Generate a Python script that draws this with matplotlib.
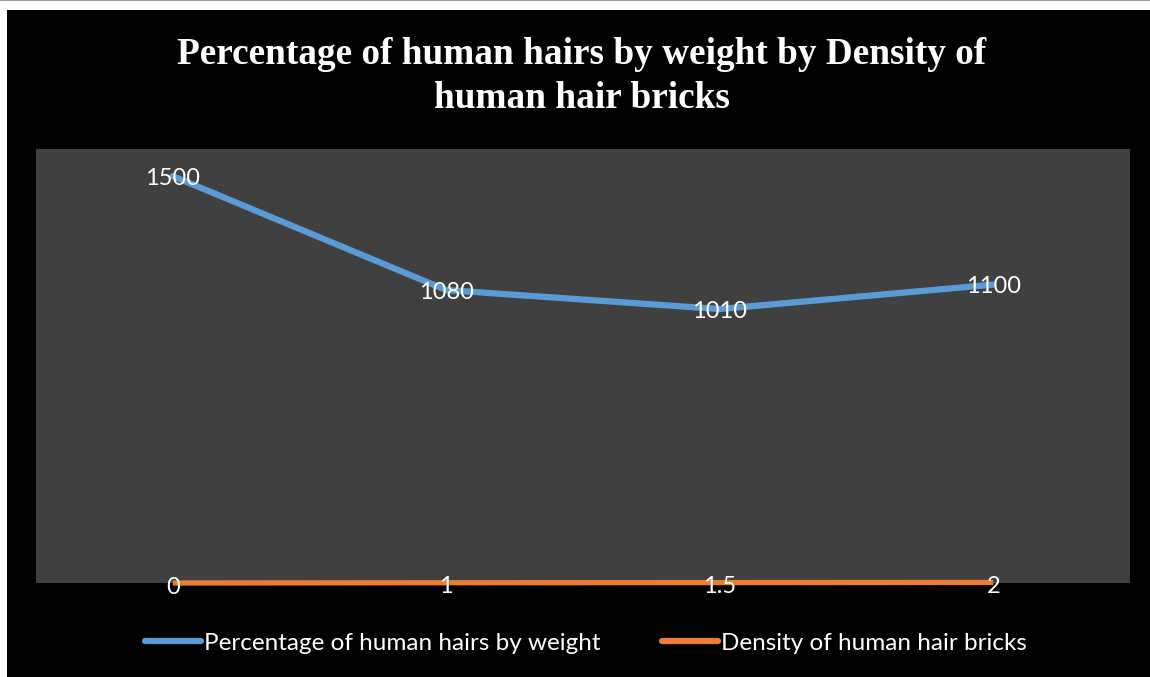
import matplotlib.pyplot as plt
from matplotlib.patches import Rectangle
from matplotlib.transforms import offset_copy

# data
categories = ['0', '1', '1.5', '2']
hair_pct_labels = [1500, 1080, 1010, 1100]      # "Percentage of human hairs by weight"
density_values = [0, 1, 1.5, 2]                  # "Density of human hair bricks"
series_names = ['Percentage of human hairs by weight', 'Density of human hair bricks']

blue = '#5B9BD5'
orange = '#ED7D31'
label_font = 'Lato'

fig = plt.figure(figsize=(11.5, 6.77), dpi=100, facecolor='white')
# black chart area behind everything
fig.add_artist(Rectangle((7 / 1150, 0), 1 - 7 / 1150, 1 - 10 / 677,
                         transform=fig.transFigure, facecolor='black',
                         edgecolor='none', zorder=-10))
fig.add_artist(plt.Line2D([0, 1], [0.9993, 0.9993], color='#a0a0a0', lw=1.5,
                          transform=fig.transFigure))

ax = fig.add_axes([36 / 1150, (677 - 583) / 677, 1094 / 1150, 434 / 677])
ax.set_zorder(1)
ax.set_facecolor('#404040')
x = list(range(len(categories)))

l1, = ax.plot(x, hair_pct_labels, color=blue, lw=4.5, solid_capstyle='round',
              solid_joinstyle='round', zorder=3)
l2, = ax.plot(x, density_values, color=orange, lw=3.8, solid_capstyle='butt',
              clip_on=False, zorder=3)

# data labels sit centred on the points
lbl_tr = offset_copy(ax.transData, fig=fig, x=0, y=-2, units='dots')
for xi, v in zip(x, hair_pct_labels):
    ax.text(xi, v, str(v), color='white', ha='center', va='center',
            fontsize=17, family=label_font, zorder=4, transform=lbl_tr)
for xi, v, c in zip(x, density_values, categories):
    ax.text(xi, v - 15, c, color='white', ha='center', va='center',
            fontsize=17, family=label_font, zorder=4, clip_on=False)

ax.set_xlim(-0.5, 3.5)
ax.set_ylim(0, 1600)
ax.set_xticks([])
ax.set_yticks([])
for s in ax.spines.values():
    s.set_visible(False)

fig.text(0.506, 1 - 54 / 677, 'Percentage of human hairs by weight by Density of',
         color='white', ha='center', va='center', fontsize=26.8,
         family='Liberation Serif', weight='bold')
fig.text(0.506, 1 - 98 / 677, 'human hair bricks',
         color='white', ha='center', va='center', fontsize=26.8,
         family='Liberation Serif', weight='bold')

leg = fig.legend([l1, l2], series_names, loc='center', ncol=2,
                 bbox_to_anchor=(586 / 1150, 1 - 643 / 677), frameon=False,
                 prop={'family': label_font, 'size': 17.5}, labelcolor='white',
                 handlelength=2.3, handletextpad=0.15, columnspacing=2.5)
for h in leg.get_lines():
    h.set_linewidth(4.5)
    h.set_solid_capstyle('round')

fig.savefig('out.png', dpi=100, facecolor='white')
